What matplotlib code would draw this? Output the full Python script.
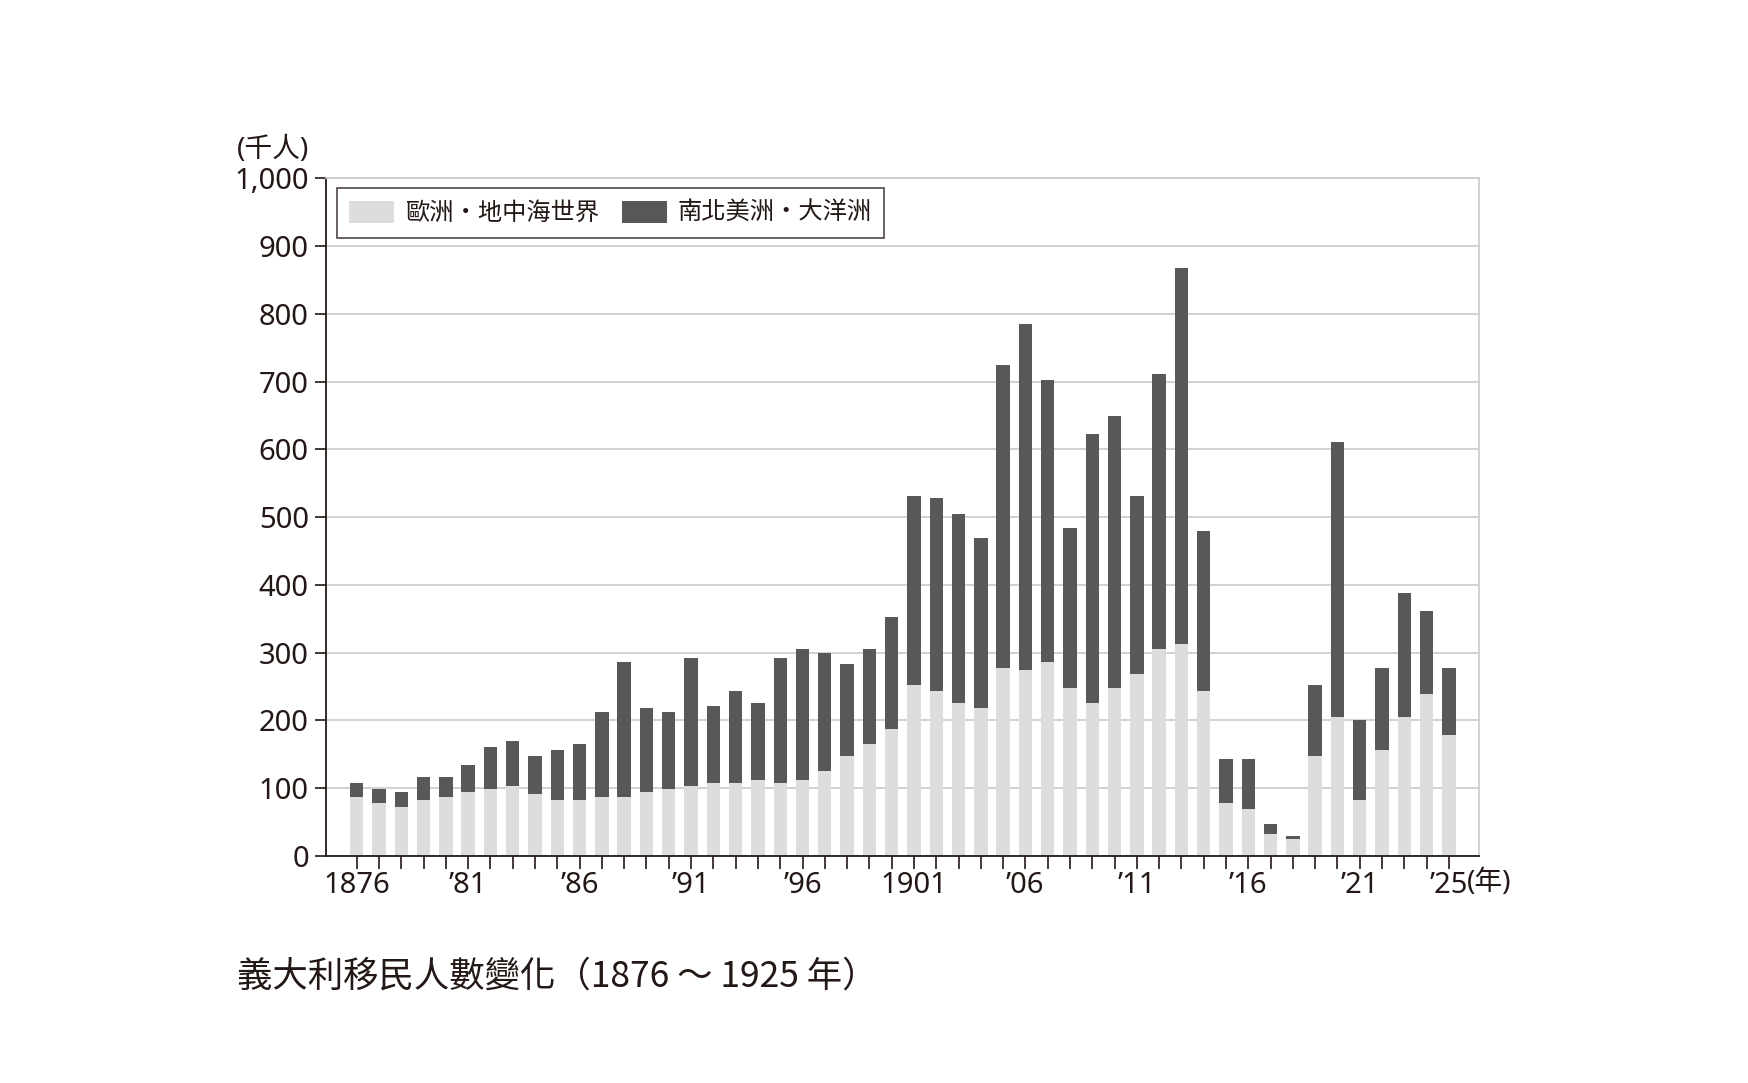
import matplotlib
matplotlib.use("Agg")
import matplotlib.pyplot as plt
from matplotlib.patches import Patch

plt.rcParams['font.family'] = ['Noto Sans CJK TC', 'DejaVu Sans']
num_font = ['Noto Sans', 'Noto Sans CJK TC']

# 義大利移民人數（千人），1876-1925
years = list(range(1876, 1926))
total = [107, 99, 95, 116, 116, 134, 161, 169, 147, 156,
         165, 213, 287, 218, 213, 292, 221, 244, 226, 292,
         305, 300, 283, 305, 352, 532, 528, 505, 470, 724,
         785, 702, 484, 623, 650, 532, 711, 868, 479, 143,
         143, 47, 30, 253, 611, 200, 278, 388, 361, 278]
europe = [87, 78, 73, 83, 87, 95, 99, 104, 91, 83,
          83, 87, 87, 95, 99, 104, 108, 108, 112, 108,
          112, 126, 147, 165, 187, 253, 244, 226, 218, 278,
          274, 287, 248, 226, 248, 269, 305, 313, 244, 78,
          69, 33, 25, 147, 205, 83, 156, 205, 239, 179]
america = [t - e for t, e in zip(total, europe)]

tick_years = [1876, 1881, 1886, 1891, 1896, 1901, 1906, 1911, 1916, 1921, 1925]
tick_labels = ["1876", "’81", "’86", "’91", "’96", "1901", "’06", "’11", "’16", "’21", "’25"]

light = "#dcdddd"
dark = "#595757"
txt = "#231815"
grid = "#c9caca"

fig = plt.figure(figsize=(17.48, 10.83), dpi=100)
ax = fig.add_axes([325.5 / 1748, 1 - 856 / 1083, (1479 - 325.5) / 1748, (856 - 178.4) / 1083])

ax.bar(years, europe, width=0.6, color=light, zorder=2)
ax.bar(years, america, bottom=europe, width=0.6, color=dark, zorder=2)

ax.set_xlim(1874.6, 1926.35)
ax.set_ylim(0, 1000)
ax.set_yticks(range(0, 1001, 100))
ax.set_yticklabels([f"{v:,}" for v in range(0, 1001, 100)])
ax.set_xticks(years, minor=True)
ax.set_xticks(tick_years)
ax.set_xticklabels(tick_labels)
ax.yaxis.grid(True, color=grid, lw=1.2, zorder=0)

ax.tick_params(axis='y', length=8, width=1.2, color=txt, labelsize=21, labelcolor=txt, pad=4)
ax.tick_params(axis='x', which='both', length=9, width=1.2, color=txt, labelsize=21, labelcolor=txt, pad=2)
for lab in ax.get_xticklabels() + ax.get_yticklabels():
    lab.set_family(num_font)
    lab.set_weight('medium')

for s in ['left', 'bottom']:
    ax.spines[s].set_color(txt)
    ax.spines[s].set_linewidth(1.3)
for s in ['top', 'right']:
    ax.spines[s].set_color(grid)
    ax.spines[s].set_linewidth(1.2)

fig.text(1467 / 1748, 1 - 883 / 1083, "(年)", fontsize=20, color=txt, va='center', ha='left',
         family=num_font, weight='medium')
fig.text(273 / 1748, 1 - 150 / 1083, "(千人)", fontsize=20, color=txt, va='center', ha='center',
         family=num_font, weight='medium')

handles = [Patch(facecolor=light, edgecolor='none', label="歐洲・地中海世界"),
           Patch(facecolor=dark, edgecolor='none', label="南北美洲・大洋洲")]
leg = ax.legend(handles=handles, loc='upper left', bbox_to_anchor=(0.0097, 0.986), ncol=2,
                prop={'size': 17.5, 'weight': 'medium'}, frameon=True, fancybox=False,
                edgecolor=txt, handlelength=1.85, handleheight=1.0, columnspacing=0.95,
                borderpad=0.5, handletextpad=0.45, borderaxespad=0)
leg.get_frame().set_linewidth(1.2)
for t in leg.get_texts():
    t.set_color(txt)

fig.text(237 / 1748, 1 - 977 / 1083, "義大利移民人數變化（1876 ～ 1925 年）", fontsize=25.5,
         color=txt, va='center', ha='left', weight='medium')

fig.savefig("out.png", dpi=100, facecolor='white')
